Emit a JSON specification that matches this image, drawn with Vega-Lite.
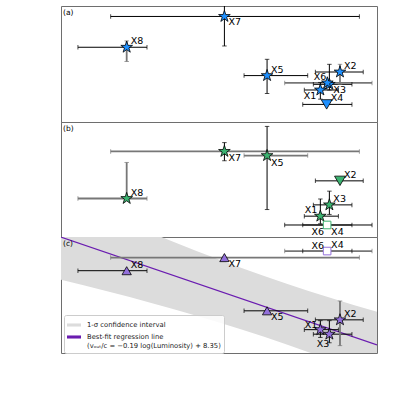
{
  "$schema": "https://vega.github.io/schema/vega-lite/v6.json",
  "padding": {"left": 60, "top": 5, "right": 19, "bottom": 43},
  "background": "white",
  "bounds": "flush",
  "config": {
    "font": "DejaVu Sans",
    "view": {"stroke": "#6e6e6e", "strokeWidth": 1},
    "concat": {"spacing": 0},
    "axis": {"disable": false, "labelFontSize": 11.5, "titleFontSize": 13.5, "titleFontWeight": "normal", "labelColor": "black", "titleColor": "black", "tickColor": "black", "domain": false, "grid": false, "tickSize": 3.5, "labelPadding": 2, "labelFlush": false, "labelOverlap": false},
    "title": {"font": "DejaVu Sans", "fontWeight": "normal", "fontSize": 7.5, "color": "black", "anchor": "start", "frame": "group", "offset": -10, "dx": 2}
  },
  "datasets": {
    "nh": [
      {"id": "X1", "lum": 44.549, "lum_lo": 44.478, "lum_hi": 44.629, "nh": 1.6e21, "nh_lo": 1.03e21, "nh_hi": 2.3e21, "limit": "none"},
      {"id": "X2", "lum": 44.636, "lum_lo": 44.527, "lum_hi": 44.739, "nh": 3.8e21, "nh_lo": 2.1e21, "nh_hi": 5.5e21, "limit": "none"},
      {"id": "X3", "lum": 44.589, "lum_lo": 44.518, "lum_hi": 44.689, "nh": 2.1e21, "nh_lo": 1.6e21, "nh_hi": 5.5e21, "limit": "none"},
      {"id": "X4", "lum": 44.577, "lum_lo": 44.471, "lum_hi": 44.689, "nh": 8.0e20, "nh_lo": null, "nh_hi": null, "limit": "upper"},
      {"id": "X5", "lum": 44.313, "lum_lo": 44.211, "lum_hi": 44.493, "nh": 3.2e21, "nh_lo": 1.35e21, "nh_hi": 7.0e21, "limit": "none"},
      {"id": "X6", "lum": 44.58, "lum_lo": 44.391, "lum_hi": 44.778, "nh": 2.25e21, "nh_lo": null, "nh_hi": null, "limit": "none"},
      {"id": "X7", "lum": 44.124, "lum_lo": 43.62, "lum_hi": 44.722, "nh": 5.5e22, "nh_lo": 1.33e22, "nh_hi": 1.2e23, "limit": "none"},
      {"id": "X8", "lum": 43.691, "lum_lo": 43.475, "lum_hi": 43.781, "nh": 1.25e22, "nh_lo": 6.3e21, "nh_hi": 1.7e22, "limit": "none"}
    ],
    "xi": [
      {"id": "X1", "lum": 44.549, "lum_lo": 44.478, "lum_hi": 44.629, "xi": 2.36, "xi_lo": 2.05, "xi_hi": 3.06, "limit": "none"},
      {"id": "X2", "lum": 44.636, "lum_lo": 44.527, "lum_hi": 44.739, "xi": 3.8, "xi_lo": null, "xi_hi": null, "limit": "upper"},
      {"id": "X3", "lum": 44.589, "lum_lo": 44.518, "lum_hi": 44.689, "xi": 2.82, "xi_lo": 2.43, "xi_hi": 3.38, "limit": "none"},
      {"id": "X4", "lum": 44.579, "lum_lo": 44.471, "lum_hi": 44.689, "xi": 2.0, "xi_lo": null, "xi_hi": null, "limit": "fixed"},
      {"id": "X5", "lum": 44.313, "lum_lo": 44.211, "lum_hi": 44.493, "xi": 4.83, "xi_lo": 2.63, "xi_hi": 6.02, "limit": "none"},
      {"id": "X6", "lum": 44.579, "lum_lo": 44.391, "lum_hi": 44.778, "xi": 2.0, "xi_lo": null, "xi_hi": null, "limit": "fixed"},
      {"id": "X7", "lum": 44.124, "lum_lo": 43.62, "lum_hi": 44.722, "xi": 5.0, "xi_lo": 4.62, "xi_hi": 5.36, "limit": "none"},
      {"id": "X8", "lum": 43.691, "lum_lo": 43.475, "lum_hi": 43.781, "xi": 3.08, "xi_lo": 3.0, "xi_hi": 4.55, "limit": "none"}
    ],
    "vout": [
      {"id": "X1", "lum": 44.549, "lum_lo": 44.478, "lum_hi": 44.629, "v": -0.192, "v_lo": -0.211, "v_hi": -0.170, "limit": "none"},
      {"id": "X2", "lum": 44.636, "lum_lo": 44.527, "lum_hi": 44.739, "v": -0.168, "v_lo": -0.231, "v_hi": -0.122, "limit": "none"},
      {"id": "X3", "lum": 44.589, "lum_lo": 44.518, "lum_hi": 44.689, "v": -0.203, "v_lo": -0.224, "v_hi": -0.170, "limit": "none"},
      {"id": "X4", "lum": 44.579, "lum_lo": 44.471, "lum_hi": 44.689, "v": 0.0, "v_lo": null, "v_hi": null, "limit": "fixed"},
      {"id": "X5", "lum": 44.313, "lum_lo": 44.211, "lum_hi": 44.493, "v": -0.146, "v_lo": null, "v_hi": null, "limit": "lower"},
      {"id": "X6", "lum": 44.579, "lum_lo": 44.391, "lum_hi": 44.778, "v": 0.0, "v_lo": null, "v_hi": null, "limit": "fixed"},
      {"id": "X7", "lum": 44.124, "lum_lo": 43.62, "lum_hi": 44.722, "v": -0.016, "v_lo": null, "v_hi": null, "limit": "lower"},
      {"id": "X8", "lum": 43.691, "lum_lo": 43.475, "lum_hi": 43.781, "v": -0.048, "v_lo": null, "v_hi": null, "limit": "lower"}
    ],
    "band": [
      {"lum": 43.4, "lo": -0.070, "hi": 0.138},
      {"lum": 43.5, "lo": -0.0836, "hi": 0.114},
      {"lum": 43.6, "lo": -0.0976, "hi": 0.0904},
      {"lum": 43.7, "lo": -0.1119, "hi": 0.0671},
      {"lum": 43.8, "lo": -0.1267, "hi": 0.0443},
      {"lum": 43.9, "lo": -0.142, "hi": 0.022},
      {"lum": 44.0, "lo": -0.1578, "hi": 0.0002},
      {"lum": 44.1, "lo": -0.1743, "hi": -0.0209},
      {"lum": 44.2, "lo": -0.1914, "hi": -0.0414},
      {"lum": 44.3, "lo": -0.2094, "hi": -0.061},
      {"lum": 44.4, "lo": -0.228, "hi": -0.08},
      {"lum": 44.5, "lo": -0.2475, "hi": -0.0981},
      {"lum": 44.6, "lo": -0.2677, "hi": -0.1155},
      {"lum": 44.7, "lo": -0.2886, "hi": -0.1322},
      {"lum": 44.8, "lo": -0.3102, "hi": -0.1482}
    ],
    "fit": [
      {"lum": 43.4, "v": 0.034},
      {"lum": 44.8, "v": -0.229}
    ]
  },
  "vconcat": [
    {
      "width": 316, "height": 116,
      "title": {"text": "(a)"},
      "encoding": {
        "x": {"field": "lum", "type": "quantitative", "scale": {"domain": [43.4, 44.8], "nice": false, "zero": false}, "axis": null},
        "y": {"field": "nh", "type": "quantitative", "scale": {"type": "log", "domain": [3.43e20, 9.1e22], "nice": false},
          "axis": {"disable": false, "title": "Nₕ (cm⁻²)", "titleX": -45, "titleBaseline": "middle",
            "values": [4e20, 5e20, 6e20, 7e20, 8e20, 9e20, 1e21, 2e21, 3e21, 4e21, 5e21, 6e21, 7e21, 8e21, 9e21, 1e22, 2e22, 3e22, 4e22, 5e22, 6e22, 7e22, 8e22, 9e22],
            "labelExpr": "datum.value == 1e21 ? '10²¹' : (datum.value == 1e22 ? '10²²' : '')",
            "tickSize": {"condition": {"test": "datum.value == 1e21 || datum.value == 1e22", "value": 3.5}, "value": 2}}}
      },
      "layer": [
        {
          "data": {"name": "nh"},
          "mark": {"type": "point", "opacity": 0},
          "encoding": {}
        },
        {
          "data": {"name": "nh"},
          "transform": [{"filter": "isValid(datum.lum_lo)"}],
          "mark": {"type": "rule", "clip": true},
          "encoding": {
            "x": {"field": "lum_lo", "type": "quantitative", "axis": null},
            "x2": {"field": "lum_hi"},
            "y": {"field": "nh", "type": "quantitative", "axis": null},
            "color": {"condition": {"test": "indexof(['X6'], datum.id) >= 0", "value": "#777777"}, "value": "black"},
            "strokeWidth": {"condition": {"test": "indexof(['X6'], datum.id) >= 0", "value": 1.8}, "value": 1}
          }
        },
        {
          "data": {"name": "nh"},
          "transform": [{"fold": ["lum_lo", "lum_hi"], "as": ["end", "lumv"]}, {"filter": "isValid(datum.lumv)"}],
          "mark": {"type": "tick", "orient": "vertical", "size": 4.5, "thickness": 1, "clip": true},
          "encoding": {
            "x": {"field": "lumv", "type": "quantitative", "axis": null},
            "y": {"field": "nh", "type": "quantitative", "axis": null},
            "color": {"condition": {"test": "indexof(['X6'], datum.id) >= 0", "value": "#777777"}, "value": "black"}
          }
        },
        {
          "data": {"name": "nh"},
          "transform": [{"filter": "isValid(datum.nh_lo)"}],
          "mark": {"type": "rule", "clip": true},
          "encoding": {
            "x": {"field": "lum", "type": "quantitative", "axis": null},
            "y": {"field": "nh_lo", "type": "quantitative", "axis": null},
            "y2": {"field": "nh_hi"},
            "color": {"condition": {"test": "indexof(['X8', 'X2'], datum.id) >= 0", "value": "#777777"}, "value": "black"},
            "strokeWidth": {"condition": {"test": "indexof(['X8', 'X2'], datum.id) >= 0", "value": 1.8}, "value": 1}
          }
        },
        {
          "data": {"name": "nh"},
          "transform": [{"fold": ["nh_lo", "nh_hi"], "as": ["end", "nhv"]}, {"filter": "isValid(datum.nhv)"}],
          "mark": {"type": "tick", "orient": "horizontal", "size": 4.5, "thickness": 1, "clip": true},
          "encoding": {
            "x": {"field": "lum", "type": "quantitative", "axis": null},
            "y": {"field": "nhv", "type": "quantitative", "axis": null},
            "color": {"condition": {"test": "indexof(['X8', 'X2'], datum.id) >= 0", "value": "#777777"}, "value": "black"}
          }
        },
        {
          "data": {"name": "nh"},
          "mark": {"type": "point", "filled": true, "stroke": "black", "strokeWidth": 0.8, "opacity": 1, "fill": "#1E90FF"},
          "encoding": {
            "shape": {"field": "limit", "type": "nominal", "legend": null, "scale": {"domain": ["none", "upper", "lower", "fixed"], "range": ["M0,-1L0.2245,-0.309L0.9511,-0.309L0.3633,0.118L0.5878,0.809L0,0.382L-0.5878,0.809L-0.3633,0.118L-0.9511,-0.309L-0.2245,-0.309Z", "triangle-down", "triangle-up", "square"]}},
            "size": {"field": "limit", "type": "nominal", "legend": null, "scale": {"domain": ["none", "upper", "lower", "fixed"], "range": [150, 55, 55, 40]}}
          }
        },
        {
          "data": {"name": "nh"},
          "transform": [{"filter": {"field": "id", "oneOf": ["X8", "X5", "X2", "X4"]}}],
          "mark": {"type": "text", "align": "left", "baseline": "middle", "dx": 4, "dy": -6, "fontSize": 9.5},
          "encoding": {"text": {"field": "id"}}
        },
        {
          "data": {"name": "nh"},
          "transform": [{"filter": {"field": "id", "oneOf": ["X7", "X3"]}}],
          "mark": {"type": "text", "align": "left", "baseline": "middle", "dx": 4, "dy": 6, "fontSize": 9.5},
          "encoding": {"text": {"field": "id"}}
        },
        {
          "data": {"name": "nh"},
          "transform": [{"filter": {"field": "id", "oneOf": ["X6"]}}],
          "mark": {"type": "text", "align": "right", "baseline": "middle", "dx": -1, "dy": -6, "fontSize": 9.5},
          "encoding": {"text": {"field": "id"}}
        },
        {
          "data": {"name": "nh"},
          "transform": [{"filter": {"field": "id", "oneOf": ["X1"]}}],
          "mark": {"type": "text", "align": "right", "baseline": "middle", "dx": -4, "dy": 6, "fontSize": 9.5},
          "encoding": {"text": {"field": "id"}}
        }
      ]
    },
    {
      "width": 316, "height": 115,
      "title": {"text": "(b)"},
      "encoding": {
        "x": {"field": "lum", "type": "quantitative", "scale": {"domain": [43.4, 44.8], "nice": false, "zero": false}, "axis": null},
        "y": {"field": "xi", "type": "quantitative", "scale": {"domain": [1.51, 6.2], "nice": false, "zero": false},
          "axis": {"disable": false, "title": "log(ξ)", "titleX": -42, "titleBaseline": "middle", "values": [2, 3, 4, 5, 6], "format": ".1f"}}
      },
      "layer": [
        {
          "data": {"name": "xi"},
          "mark": {"type": "point", "opacity": 0},
          "encoding": {}
        },
        {
          "data": {"name": "xi"},
          "transform": [{"filter": "isValid(datum.lum_lo)"}],
          "mark": {"type": "rule", "clip": true},
          "encoding": {
            "x": {"field": "lum_lo", "type": "quantitative", "axis": null},
            "x2": {"field": "lum_hi"},
            "y": {"field": "xi", "type": "quantitative", "axis": null},
            "color": {"condition": {"test": "indexof(['X8', 'X7', 'X5'], datum.id) >= 0", "value": "#777777"}, "value": "black"},
            "strokeWidth": {"condition": {"test": "indexof(['X8', 'X7', 'X5'], datum.id) >= 0", "value": 1.8}, "value": 1}
          }
        },
        {
          "data": {"name": "xi"},
          "transform": [{"fold": ["lum_lo", "lum_hi"], "as": ["end", "lumv"]}, {"filter": "isValid(datum.lumv)"}],
          "mark": {"type": "tick", "orient": "vertical", "size": 4.5, "thickness": 1, "clip": true},
          "encoding": {
            "x": {"field": "lumv", "type": "quantitative", "axis": null},
            "y": {"field": "xi", "type": "quantitative", "axis": null},
            "color": {"condition": {"test": "indexof(['X8', 'X7', 'X5'], datum.id) >= 0", "value": "#777777"}, "value": "black"}
          }
        },
        {
          "data": {"name": "xi"},
          "transform": [{"filter": "isValid(datum.xi_lo)"}],
          "mark": {"type": "rule", "clip": true},
          "encoding": {
            "x": {"field": "lum", "type": "quantitative", "axis": null},
            "y": {"field": "xi_lo", "type": "quantitative", "axis": null},
            "y2": {"field": "xi_hi"},
            "color": {"condition": {"test": "indexof(['X8'], datum.id) >= 0", "value": "#777777"}, "value": "black"},
            "strokeWidth": {"condition": {"test": "indexof(['X8'], datum.id) >= 0", "value": 1.8}, "value": 1}
          }
        },
        {
          "data": {"name": "xi"},
          "transform": [{"fold": ["xi_lo", "xi_hi"], "as": ["end", "xiv"]}, {"filter": "isValid(datum.xiv)"}],
          "mark": {"type": "tick", "orient": "horizontal", "size": 4.5, "thickness": 1, "clip": true},
          "encoding": {
            "x": {"field": "lum", "type": "quantitative", "axis": null},
            "y": {"field": "xiv", "type": "quantitative", "axis": null},
            "color": {"condition": {"test": "indexof(['X8'], datum.id) >= 0", "value": "#777777"}, "value": "black"}
          }
        },
        {
          "data": {"name": "xi"},
          "mark": {"type": "point", "filled": true, "strokeWidth": 0.8, "opacity": 1},
          "encoding": {
            "fill": {"condition": {"test": "datum.limit === 'fixed'", "value": "white"}, "value": "#3CB371"},
            "stroke": {"condition": {"test": "datum.limit === 'fixed'", "value": "#3CB371"}, "value": "black"},
            "shape": {"field": "limit", "type": "nominal", "legend": null, "scale": {"domain": ["none", "upper", "lower", "fixed"], "range": ["M0,-1L0.2245,-0.309L0.9511,-0.309L0.3633,0.118L0.5878,0.809L0,0.382L-0.5878,0.809L-0.3633,0.118L-0.9511,-0.309L-0.2245,-0.309Z", "triangle-down", "triangle-up", "square"]}},
            "size": {"field": "limit", "type": "nominal", "legend": null, "scale": {"domain": ["none", "upper", "lower", "fixed"], "range": [150, 55, 55, 40]}}
          }
        },
        {
          "data": {"name": "xi"},
          "transform": [{"filter": {"field": "id", "oneOf": ["X8", "X2", "X3"]}}],
          "mark": {"type": "text", "align": "left", "baseline": "middle", "dx": 4, "dy": -6, "fontSize": 9.5},
          "encoding": {"text": {"field": "id"}}
        },
        {
          "data": {"name": "xi"},
          "transform": [{"filter": {"field": "id", "oneOf": ["X7", "X5", "X4"]}}],
          "mark": {"type": "text", "align": "left", "baseline": "middle", "dx": 4, "dy": 7, "fontSize": 9.5},
          "encoding": {"text": {"field": "id"}}
        },
        {
          "data": {"name": "xi"},
          "transform": [{"filter": {"field": "id", "oneOf": ["X1"]}}],
          "mark": {"type": "text", "align": "right", "baseline": "middle", "dx": -3, "dy": -6, "fontSize": 9.5},
          "encoding": {"text": {"field": "id"}}
        },
        {
          "data": {"name": "xi"},
          "transform": [{"filter": {"field": "id", "oneOf": ["X6"]}}],
          "mark": {"type": "text", "align": "right", "baseline": "middle", "dx": -3, "dy": 7, "fontSize": 9.5},
          "encoding": {"text": {"field": "id"}}
        }
      ]
    },
    {
      "width": 316, "height": 116,
      "title": {"text": "(c)"},
      "encoding": {
        "x": {"field": "lum", "type": "quantitative", "scale": {"domain": [43.4, 44.8], "nice": false, "zero": false},
          "axis": {"disable": false, "title": "log(Luminosity in ergs/s)", "values": [43.4, 43.6, 43.8, 44.0, 44.2, 44.4, 44.6, 44.8], "format": ".1f", "titleFontSize": 14, "titlePadding": 4}},
        "y": {"field": "v", "type": "quantitative", "scale": {"domain": [-0.249, 0.0343], "nice": false, "zero": false},
          "axis": {"disable": false, "title": "vₒᵤₜ/c", "titleX": -48, "titleBaseline": "middle", "values": [-0.2, -0.15, -0.1, -0.05, 0],
            "labelExpr": "(datum.value == -0.2 || datum.value == -0.1 || datum.value == 0) ? replace(format(datum.value, '.1f'), '-', '−') : ''",
            "tickSize": {"condition": {"test": "datum.value == -0.2 || datum.value == -0.1 || datum.value == 0", "value": 3.5}, "value": 2}}}
      },
      "layer": [
        {
          "data": {"name": "vout"},
          "mark": {"type": "point", "opacity": 0},
          "encoding": {}
        },
        {
          "data": {"name": "band"},
          "mark": {"type": "area", "clip": true, "opacity": 1},
          "encoding": {
            "x": {"field": "lum", "type": "quantitative", "axis": null},
            "y": {"field": "lo", "type": "quantitative", "axis": null},
            "y2": {"field": "hi"},
            "color": {"datum": "1-σ confidence interval", "type": "nominal",
              "scale": {"domain": ["1-σ confidence interval", "Best-fit regression line"], "range": ["#dcdcdc", "#6a1cb0"]},
              "legend": {"title": null, "orient": "none", "legendX": 3, "legendY": 309, "fillColor": "rgba(255,255,255,0.85)", "strokeColor": "#cccccc", "cornerRadius": 2, "padding": 3, "labelFontSize": 6.8, "labelFont": "DejaVu Sans", "labelColor": "#222222", "rowPadding": 1, "symbolSize": 196, "labelOffset": 6, "labelLimit": 300, "symbolType": "M-1,-0.22H1V0.22H-1Z", "symbolStrokeWidth": 0,
                "labelExpr": "datum.label == 'Best-fit regression line' ? ['Best-fit regression line', '(vₒᵤₜ/c = −0.19 log(Luminosity) + 8.35)'] : datum.label"}
            }
          }
        },
        {
          "mark": {"type": "rule", "color": "#9370DB", "strokeDash": [1.5, 2.5], "strokeWidth": 1},
          "encoding": {"x": null, "y": {"datum": 0, "type": "quantitative", "axis": null}}
        },
        {
          "data": {"name": "fit"},
          "mark": {"type": "line", "strokeWidth": 1.2, "clip": true},
          "encoding": {
            "x": {"field": "lum", "type": "quantitative", "axis": null},
            "y": {"field": "v", "type": "quantitative", "axis": null},
            "color": {"datum": "Best-fit regression line", "type": "nominal"}
          }
        },
        {
          "data": {"name": "vout"},
          "transform": [{"filter": "isValid(datum.lum_lo)"}],
          "mark": {"type": "rule", "clip": true},
          "encoding": {
            "x": {"field": "lum_lo", "type": "quantitative", "axis": null},
            "x2": {"field": "lum_hi"},
            "y": {"field": "v", "type": "quantitative", "axis": null},
            "color": {"condition": {"test": "indexof(['X7', 'X6'], datum.id) >= 0", "value": "#777777"}, "value": "black"},
            "strokeWidth": {"condition": {"test": "indexof(['X7', 'X6'], datum.id) >= 0", "value": 1.8}, "value": 1}
          }
        },
        {
          "data": {"name": "vout"},
          "transform": [{"fold": ["lum_lo", "lum_hi"], "as": ["end", "lumv"]}, {"filter": "isValid(datum.lumv)"}],
          "mark": {"type": "tick", "orient": "vertical", "size": 4.5, "thickness": 1, "clip": true},
          "encoding": {
            "x": {"field": "lumv", "type": "quantitative", "axis": null},
            "y": {"field": "v", "type": "quantitative", "axis": null},
            "color": {"condition": {"test": "indexof(['X7', 'X6'], datum.id) >= 0", "value": "#777777"}, "value": "black"}
          }
        },
        {
          "data": {"name": "vout"},
          "transform": [{"filter": "isValid(datum.v_lo)"}],
          "mark": {"type": "rule", "clip": true},
          "encoding": {
            "x": {"field": "lum", "type": "quantitative", "axis": null},
            "y": {"field": "v_lo", "type": "quantitative", "axis": null},
            "y2": {"field": "v_hi"},
            "color": {"condition": {"test": "indexof(['X2'], datum.id) >= 0", "value": "#777777"}, "value": "black"},
            "strokeWidth": {"condition": {"test": "indexof(['X2'], datum.id) >= 0", "value": 1.8}, "value": 1}
          }
        },
        {
          "data": {"name": "vout"},
          "transform": [{"fold": ["v_lo", "v_hi"], "as": ["end", "vv"]}, {"filter": "isValid(datum.vv)"}],
          "mark": {"type": "tick", "orient": "horizontal", "size": 4.5, "thickness": 1, "clip": true},
          "encoding": {
            "x": {"field": "lum", "type": "quantitative", "axis": null},
            "y": {"field": "vv", "type": "quantitative", "axis": null},
            "color": {"condition": {"test": "indexof(['X2'], datum.id) >= 0", "value": "#777777"}, "value": "black"}
          }
        },
        {
          "data": {"name": "vout"},
          "mark": {"type": "point", "filled": true, "strokeWidth": 0.8, "opacity": 1},
          "encoding": {
            "fill": {"condition": {"test": "datum.limit === 'fixed'", "value": "white"}, "value": "#9370DB"},
            "stroke": {"condition": {"test": "datum.limit === 'fixed'", "value": "#9370DB"}, "value": "black"},
            "shape": {"field": "limit", "type": "nominal", "legend": null, "scale": {"domain": ["none", "upper", "lower", "fixed"], "range": ["M0,-1L0.2245,-0.309L0.9511,-0.309L0.3633,0.118L0.5878,0.809L0,0.382L-0.5878,0.809L-0.3633,0.118L-0.9511,-0.309L-0.2245,-0.309Z", "triangle-down", "triangle-up", "square"]}},
            "size": {"field": "limit", "type": "nominal", "legend": null, "scale": {"domain": ["none", "upper", "lower", "fixed"], "range": [150, 55, 55, 40]}}
          }
        },
        {
          "data": {"name": "vout"},
          "transform": [{"filter": {"field": "id", "oneOf": ["X8", "X2", "X4"]}}],
          "mark": {"type": "text", "align": "left", "baseline": "middle", "dx": 4, "dy": -6, "fontSize": 9.5},
          "encoding": {"text": {"field": "id"}}
        },
        {
          "data": {"name": "vout"},
          "transform": [{"filter": {"field": "id", "oneOf": ["X7", "X5"]}}],
          "mark": {"type": "text", "align": "left", "baseline": "middle", "dx": 4, "dy": 6, "fontSize": 9.5},
          "encoding": {"text": {"field": "id"}}
        },
        {
          "data": {"name": "vout"},
          "transform": [{"filter": {"field": "id", "oneOf": ["X1", "X6"]}}],
          "mark": {"type": "text", "align": "right", "baseline": "middle", "dx": -3, "dy": -5, "fontSize": 9.5},
          "encoding": {"text": {"field": "id"}}
        },
        {
          "data": {"name": "vout"},
          "transform": [{"filter": {"field": "id", "oneOf": ["X3"]}}],
          "mark": {"type": "text", "align": "right", "baseline": "middle", "dx": 0, "dy": 10, "fontSize": 9.5},
          "encoding": {"text": {"field": "id"}}
        }
      ]
    }
  ]
}
